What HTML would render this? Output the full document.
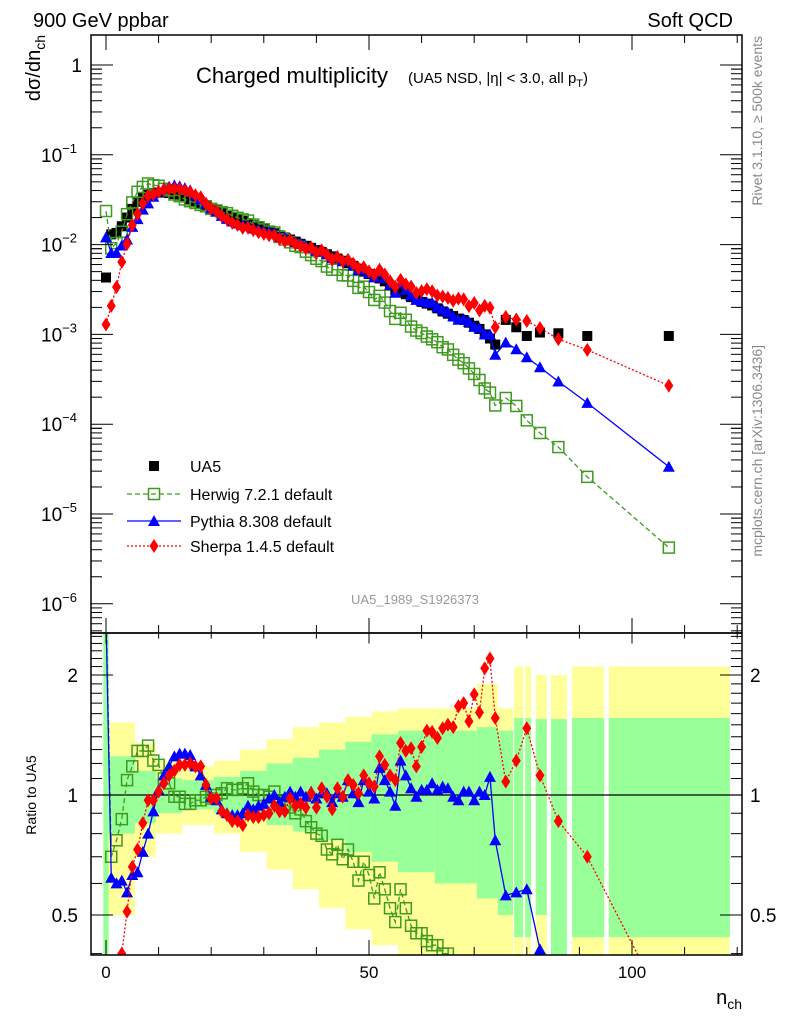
<!DOCTYPE html>
<html><head><meta charset="utf-8">
<style>
html,body{margin:0;padding:0;background:#fff;width:786px;height:1024px;overflow:hidden;}
svg{display:block;font-family:"Liberation Sans",sans-serif;}
</style></head>
<body>
<svg id="chart" width="786" height="1024" viewBox="0 0 786 1024" xmlns="http://www.w3.org/2000/svg">
<g id="bands"></g>
<g id="ratioSeries"></g>
<g id="mainSeries"></g>
<g id="axes"></g>
<text x="33" y="27" font-size="20">900 GeV ppbar</text>
<text x="733" y="27" font-size="20" text-anchor="end">Soft QCD</text>
<text transform="translate(40,35) rotate(-90)" font-size="20" text-anchor="end">dσ/dn<tspan font-size="14" dy="5">ch</tspan></text>
<text x="196" y="83" font-size="22">Charged multiplicity</text>
<text x="408" y="83" font-size="15">(UA5 NSD, |η| &lt; 3.0, all p<tspan font-size="11" dy="4">T</tspan><tspan dy="-4">)</tspan></text>
<text x="415" y="604" font-size="13" fill="#999" text-anchor="middle">UA5_1989_S1926373</text>
<text transform="translate(762,36) rotate(-90)" font-size="14" fill="#888" text-anchor="end">Rivet 3.1.10, ≥ 500k events</text>
<text transform="translate(762,345) rotate(-90)" font-size="14" fill="#888" text-anchor="end">mcplots.cern.ch [arXiv:1306.3436]</text>
<text transform="translate(36,795) rotate(-90)" font-size="14" text-anchor="middle">Ratio to UA5</text>
<text x="742" y="1004" font-size="20" text-anchor="end">n<tspan font-size="14" dy="5">ch</tspan></text>
<g id="legend"></g>
</svg>
<script>
// ---- data ----
const nBins = [0,1,2,3,4,5,6,7,8,9,10,11,12,13,14,15,16,17,18,19,20,21,22,23,24,25,26,27,28,29,30,31,32,33,34,35,36,37,38,39,40,41,42,43,44,45,46,47,48,49,50,51,52,53,54,55,56,57,58,59,60,61,62,63,64,65,66,67,68,69,70,71,72,73,74,76,78,80,82.5,86,91.5,107];
const ua5Values = [4.3e-3,1.3e-2,1.35e-2,1.6e-2,2.0e-2,2.5e-2,3.0e-2,3.4e-2,3.6e-2,3.75e-2,3.8e-2,3.8e-2,3.75e-2,3.65e-2,3.5e-2,3.35e-2,3.2e-2,3.0e-2,2.85e-2,2.7e-2,2.55e-2,2.4e-2,2.27e-2,2.15e-2,2.03e-2,1.93e-2,1.83e-2,1.73e-2,1.64e-2,1.56e-2,1.48e-2,1.41e-2,1.34e-2,1.27e-2,1.2e-2,1.14e-2,1.08e-2,1.02e-2,9.7e-3,9.2e-3,8.7e-3,8.3e-3,7.8e-3,7.4e-3,7.0e-3,6.6e-3,6.2e-3,5.8e-3,5.4e-3,5.0e-3,4.7e-3,4.4e-3,4.2e-3,3.9e-3,3.5e-3,3.1e-3,3.0e-3,2.8e-3,2.6e-3,2.45e-3,2.3e-3,2.2e-3,2.1e-3,1.95e-3,1.8e-3,1.7e-3,1.6e-3,1.5e-3,1.45e-3,1.35e-3,1.25e-3,1.15e-3,1.0e-3,9.0e-4,7.7e-4,1.45e-3,1.2e-3,9.6e-4,1.05e-3,1.03e-3,9.6e-4,9.6e-4];
// MC predictions given as ratio to UA5
const herwigRatio = [5.5,0.70,0.77,0.87,1.09,1.18,1.29,1.29,1.33,1.22,1.19,1.10,1.07,0.99,0.99,0.95,0.95,0.97,0.97,0.99,0.98,1.0,1.01,1.04,1.03,1.03,1.04,1.07,1.02,1.0,1.0,0.99,1.02,0.96,0.95,0.93,0.90,0.92,0.86,0.83,0.80,0.79,0.73,0.71,0.75,0.69,0.73,0.68,0.61,0.68,0.63,0.55,0.64,0.58,0.52,0.48,0.58,0.52,0.47,0.45,0.45,0.43,0.42,0.42,0.40,0.40,0.37,0.35,0.33,0.31,0.29,0.27,0.25,0.25,0.21,0.135,0.133,0.115,0.076,0.054,0.027,0.0044];
const pythiaRatio = [2.8,0.62,0.60,0.61,0.57,0.63,0.64,0.72,0.80,0.91,1.03,1.12,1.18,1.25,1.27,1.27,1.26,1.18,1.12,1.06,0.99,0.97,0.92,0.90,0.89,0.89,0.90,0.94,0.92,0.94,0.95,0.98,1.0,0.96,0.99,1.02,0.99,1.02,0.99,1.02,0.98,1.01,1.01,0.96,1.01,0.99,1.09,1.01,0.96,1.09,1.02,0.98,1.17,1.09,1.02,0.94,1.22,1.12,1.04,0.99,1.03,1.03,1.07,1.03,1.05,1.04,0.99,0.97,1.02,1.02,0.97,1.02,1.0,1.11,0.77,0.56,0.57,0.58,0.41,0.29,0.18,0.035];
const sherpaRatio = [0.30,0.16,0.25,0.40,0.51,0.66,0.73,0.85,0.97,0.97,1.02,1.07,1.12,1.15,1.19,1.19,1.20,1.18,1.18,1.06,0.98,0.98,0.91,0.89,0.86,0.86,0.84,0.89,0.88,0.88,0.89,0.90,0.94,0.91,0.91,0.98,0.94,0.95,0.93,1.01,0.93,1.04,0.99,0.92,1.04,0.99,1.09,1.06,1.01,1.12,1.07,1.05,1.25,1.19,1.12,1.09,1.35,1.29,1.31,1.18,1.32,1.45,1.44,1.39,1.47,1.50,1.48,1.67,1.70,1.53,1.79,1.61,2.08,2.2,1.56,1.08,1.22,1.47,1.12,0.86,0.70,0.28];
// uncertainty band segments
const bandEdgesLo = [-0.5,0.5,5.5,9.5,14.5,20.5,25.5,30.5,35.5,40.5,45.5,50.5,55.5,62.5,70.5,74.5,77.6,79.7,81.7,84.6,88.6,95.6];
const bandEdgesHi = [0.5,5.5,9.5,14.5,20.5,25.5,30.5,35.5,40.5,45.5,50.5,55.5,62.5,70.5,74.5,77.4,79.3,80.8,83.8,87.6,94.7,118.6];
const totalLo = [0.39,0.50,0.70,0.80,0.84,0.80,0.72,0.65,0.58,0.52,0.46,0.42,0.39,0.39,0.39,0.39,0.39,0.39,0.39,0.39,0.39,0.39];
const totalHi = [2.6,1.52,1.35,1.22,1.18,1.22,1.30,1.38,1.48,1.52,1.57,1.62,1.65,1.65,1.90,1.65,2.1,2.1,2.0,2.0,2.1,2.1];
const statLo = [0.39,0.80,0.85,0.90,0.92,0.90,0.87,0.84,0.81,0.77,0.72,0.68,0.64,0.60,0.55,0.50,0.44,0.44,0.50,0.39,0.44,0.44];
const statHi = [2.6,1.25,1.15,1.10,1.09,1.11,1.15,1.20,1.24,1.30,1.36,1.42,1.45,1.45,1.48,1.45,1.56,1.56,1.55,1.55,1.56,1.56];
const mainTickLabels = ["1","10","10","10","10","10","10"];
const mainTickExps = ["","−1","−2","−3","−4","−5","−6"];
const xTickLabels = [0,50,100];
const ratioTickLabels = [2,1,0.5];

// ---- geometry ----
const L=91,R=742,T=35,MB=633,B=955;
const X = n => 106 + (n)*5.26;
const Ymain = v => 65 - Math.log10(v)*89.8;
const Yr = r => 795 - Math.log2(r)*120;
const NS="http://www.w3.org/2000/svg";
function mk(tag, attrs, parent){const e=document.createElementNS(NS,tag);for(const k in attrs)e.setAttribute(k,attrs[k]);parent.appendChild(e);return e;}
const svg=document.getElementById('chart');
const defs=mk('defs',{},svg);
const cpM=mk('clipPath',{id:'clipMain'},defs);mk('rect',{x:L,y:T,width:R-L,height:MB-T},cpM);
const cpR=mk('clipPath',{id:'clipRatio'},defs);mk('rect',{x:L,y:MB,width:R-L,height:B-MB},cpR);

const bands=document.getElementById('bands');
bands.setAttribute('clip-path','url(#clipRatio)');
for(let i=0;i<bandEdgesLo.length;i++){
  const x0=Math.max(L,X(bandEdgesLo[i])),x1=X(bandEdgesHi[i]);
  const y=mk('rect',{x:x0,y:Yr(totalHi[i]),width:x1-x0,height:Yr(totalLo[i])-Yr(totalHi[i]),fill:'#ffff99'},bands);
  
  
  const g=mk('rect',{x:x0,y:Yr(statHi[i]),width:x1-x0,height:Yr(statLo[i])-Yr(statHi[i]),fill:'#99ff99'},bands);
  
  
}
const refl=mk('line',{x1:L,x2:R,y1:Yr(1),y2:Yr(1),stroke:'#000','stroke-width':1.3},bands);



function marker(kind,x,y,parent){
  let e;
  if(kind==='sq') e=mk('rect',{x:x-5,y:y-5,width:10,height:10,fill:'#000'},parent);
  else if(kind==='osq') e=mk('rect',{x:x-5.5,y:y-5.5,width:11,height:11,fill:'none',stroke:'#3f9a1f','stroke-width':1.5},parent);
  else if(kind==='tri') e=mk('polygon',{points:`${x},${y-6} ${x-6},${y+5} ${x+6},${y+5}`,fill:'#0000ff'},parent);
  else e=mk('polygon',{points:`${x},${y-7} ${x-4.5},${y} ${x},${y+7} ${x+4.5},${y}`,fill:'#ff0000'},parent);
  return e;
}
const styles={
  herwig:{m:'osq',c:'#3f9a1f',dash:'5,3',w:1.3},
  pythia:{m:'tri',c:'#0000ff',dash:'',w:1.3},
  sherpa:{m:'diam',c:'#ff0000',dash:'2,2',w:1.3}
};
const mcs=[['herwig',herwigRatio],['pythia',pythiaRatio],['sherpa',sherpaRatio]];
const main=document.getElementById('mainSeries');main.setAttribute('clip-path','url(#clipMain)');
const rat=document.getElementById('ratioSeries');rat.setAttribute('clip-path','url(#clipRatio)');

for(const [name,ratio] of mcs){
  const s=styles[name];
  const ptsM=nBins.map((n,i)=>[X(n),Ymain(ratio[i]*ua5Values[i])]);
  const ptsR=nBins.map((n,i)=>[X(n),Yr(ratio[i])]);
  const lm=mk('polyline',{points:ptsM.map(p=>p.join(',')).join(' '),fill:'none',stroke:s.c,'stroke-width':s.w,'stroke-dasharray':s.dash},main);
  
  
  const lr=mk('polyline',{points:ptsR.map(p=>p[0]+','+Math.min(1015,Math.max(600,p[1]))).join(' '),fill:'none',stroke:s.c,'stroke-width':s.w,'stroke-dasharray':s.dash},rat);
  
  
  ptsM.forEach(p=>{const e=marker(s.m,p[0],p[1],main);
    
    });
  ptsR.forEach(p=>{if(p[1]<MB-10||p[1]>B+10)return;const e=marker(s.m,p[0],p[1],rat);
    
    });
}
nBins.forEach((n,i)=>{const e=marker('sq',X(n),Ymain(ua5Values[i]),main);
  
  
  main.insertBefore(e,main.firstChild);});

const ax=document.getElementById('axes');
function ln(x1,y1,x2,y2,w){return mk('line',{x1,y1,x2,y2,stroke:'#000','stroke-width':w||1},ax);}
const fr1=mk('rect',{x:L,y:T,width:R-L,height:MB-T,fill:'none',stroke:'#000','stroke-width':1.5},ax);


const fr2=mk('rect',{x:L,y:MB,width:R-L,height:B-MB,fill:'none',stroke:'#000','stroke-width':1.5},ax);


for(let n=0;n<=120;n+=10){
  const x=X(n),maj=(n%50===0);const l=maj?15:8;
  ln(x,T,x,T+l);ln(x,MB,x,MB-l);ln(x,MB,x,MB+l*0.7);ln(x,B,x,B-l);
}
xTickLabels.forEach(v=>{const t=mk('text',{x:X(v),y:978,'font-size':17,'text-anchor':'middle'},ax);t.textContent=v;
  
  });
for(let d=0;d>=-6;d--){
  const y=Ymain(Math.pow(10,d));
  ln(L,y,L+22,y);ln(R,y,R-22,y);
  for(let k=2;k<=9;k++){const ym=Ymain(k*Math.pow(10,d-1));if(ym<MB&&ym>T){ln(L,ym,L+11,ym);ln(R,ym,R-11,ym);}}
  const yt=Ymain(9*Math.pow(10,d)); if(yt>T){ln(L,yt,L+11,yt);ln(R,yt,R-11,yt);}
}
mainTickLabels.forEach((lab,i)=>{
  const y=Ymain(Math.pow(10,-i));
  const t=mk('text',{x:82,y:y+7,'font-size':19,'text-anchor':'end'},ax);
  
  
  if(mainTickExps[i]===''){t.textContent=lab;}
  else{t.setAttribute('x',41);t.setAttribute('text-anchor','start');
    const a=mk('tspan',{},t);a.textContent=lab;
    const b=mk('tspan',{'font-size':13,dy:-9},t);b.textContent=mainTickExps[i];}
});
const rMinor=[0.4,0.5,0.6,0.7,0.8,0.9,1,1.1,1.2,1.3,1.4,1.5,1.6,1.7,1.8,1.9,2,2.1,2.2,2.3,2.4,2.5];
rMinor.forEach(r=>{const y=Yr(r);if(y>MB&&y<B){const maj=(r===0.5||r===1||r===2);const l=maj?22:11;ln(L,y,L+l,y);ln(R,y,R-l,y);}});
ratioTickLabels.forEach(r=>{
  const t=mk('text',{x:78,y:Yr(r)+7,'font-size':19,'text-anchor':'end'},ax);t.textContent=r;
  
  
  const t2=mk('text',{x:750,y:Yr(r)+7,'font-size':19},ax);t2.textContent=r;
  
  
});

const lg=document.getElementById('legend');
const legItems=[['sq','UA5',466,'#000',''],['osq','Herwig 7.2.1 default',494,'#3f9a1f','5,3'],['tri','Pythia 8.308 default',521,'#0000ff',''],['diam','Sherpa 1.4.5 default',546,'#ff0000','2,2']];
legItems.forEach(([m,lab,y,c,dash])=>{
  const g=mk('g',{},lg);
  
  
  if(m!=='sq') mk('line',{x1:127,x2:181,y1:y,y2:y,stroke:c,'stroke-width':1.3,'stroke-dasharray':dash},g);
  marker(m,154,y,g);
  const t=mk('text',{x:190,y:y+6,'font-size':16},g);t.textContent=lab;
});
</script>
</body></html>
